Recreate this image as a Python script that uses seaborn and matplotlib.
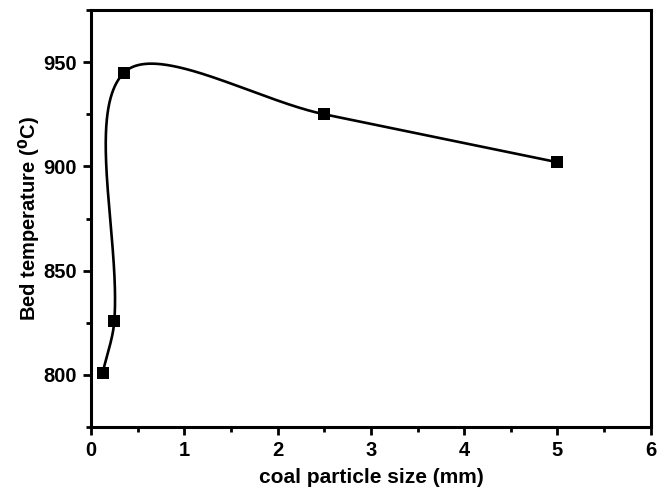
import matplotlib
matplotlib.use("Agg")
import matplotlib.pyplot as plt
import numpy as np
import pandas as pd
import seaborn as sns

# values
particle_size = [0.125, 0.25, 0.355, 2.5, 5.0]
bed_temp = [801, 826, 945, 925, 902]

x_ticks = [0, 1, 2, 3, 4, 5, 6]
y_ticks = [800, 850, 900, 950]

sns.set_theme(style="ticks")
plt.rcParams["font.family"] = ["Liberation Sans", "DejaVu Sans"]
plt.rcParams["text.color"] = "black"
plt.rcParams["axes.labelcolor"] = "black"


def catmull_rom(px, py, n_seg=200):
    """Chord-length Catmull-Rom curve through the points."""
    P = np.column_stack([px, py])
    d = np.hypot(*np.diff(P, axis=0).T)
    t = np.concatenate([[0], np.cumsum(d)])
    # tangents (per unit of chord length), ends follow the end chord
    m = np.empty_like(P)
    m[0] = (P[1] - P[0]) / d[0]
    m[-1] = (P[-1] - P[-2]) / d[-1]
    for i in range(1, len(P) - 1):
        m[i] = (P[i + 1] - P[i - 1]) / (t[i + 1] - t[i - 1])
    s = np.linspace(0, 1, n_seg)[:, None]
    h00 = 2 * s**3 - 3 * s**2 + 1
    h10 = s**3 - 2 * s**2 + s
    h01 = -2 * s**3 + 3 * s**2
    h11 = s**3 - s**2
    parts = []
    for i in range(len(P) - 1):
        parts.append(h00 * P[i] + h10 * m[i] * d[i] + h01 * P[i + 1] + h11 * m[i + 1] * d[i])
    return np.vstack(parts)


# smooth connecting line, built in axis-scaled (screen-like) space
sx, sy = 560 / 6, 417 / 200
xy = catmull_rom(np.array(particle_size) * sx, (np.array(bed_temp) - 775) * sy)
curve = pd.DataFrame({"x": xy[:, 0] / sx, "y": xy[:, 1] / sy + 775})
pts = pd.DataFrame({"x": particle_size, "y": bed_temp})

fig = plt.figure(figsize=(6.62, 4.91), dpi=100)
ax = fig.add_axes([0.1375, 0.1303, 0.8455, 0.8493])

sns.lineplot(data=curve, x="x", y="y", sort=False, estimator=None,
             color="black", linewidth=1.9, ax=ax)
sns.scatterplot(data=pts, x="x", y="y", marker="s", s=64, color="black",
                linewidth=0, zorder=3, ax=ax)

ax.set_xlim(0, 6)
ax.set_ylim(775, 975)
ax.set_xticks(x_ticks)
ax.set_yticks(y_ticks)
ax.set_xticks(np.arange(0.5, 6, 1.0), minor=True)
ax.set_yticks(np.arange(775, 976, 50), minor=True)
ax.tick_params(axis="both", which="major", direction="out", length=6, width=2,
               labelsize=14.5, colors="black", pad=4)
ax.tick_params(axis="both", which="minor", direction="out", length=3.5, width=2,
               colors="black")
for lbl in ax.get_xticklabels() + ax.get_yticklabels():
    lbl.set_fontweight("bold")
for sp in ax.spines.values():
    sp.set_linewidth(2.2)
    sp.set_color("black")

ax.set_xlabel("coal particle size (mm)", fontsize=15, fontweight="bold", labelpad=6)
ax.set_ylabel("Bed temperature ($\\mathbf{^{0}}$C)", fontsize=14.5, fontweight="bold")
ax.yaxis.set_label_coords(-0.087, 0.5)

fig.savefig("out.png", dpi=100)
